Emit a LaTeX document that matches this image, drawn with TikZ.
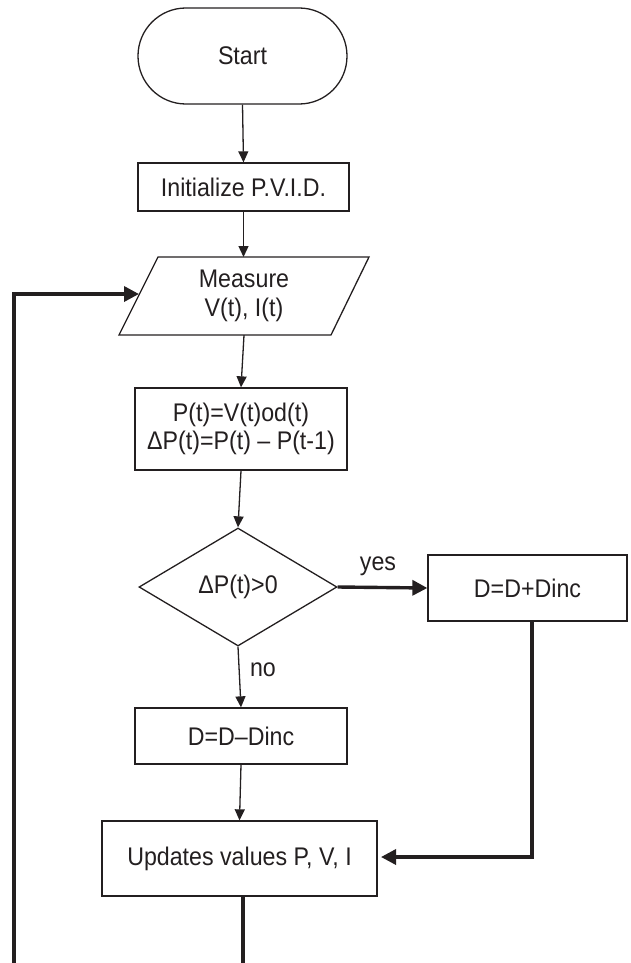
\documentclass[tikz,border=0pt]{standalone}
\usepackage{fontspec}
\setmainfont{Liberation Sans}[FakeStretch=0.91]
\usetikzlibrary{arrows.meta,shapes.geometric,calc}
\definecolor{ink}{RGB}{35,31,32}
\tikzset{
  box/.style={draw=ink, line width=1.3pt, rectangle, inner sep=0pt, align=center, text=ink},
  thin/.style={draw=ink, line width=1.3pt, -{Triangle[length=11pt,width=10pt]}},
  thick/.style={draw=ink, line width=3.4pt, -{Triangle[length=15pt,width=15pt]}},
  thickplain/.style={draw=ink, line width=3.4pt},
  lbl/.style={text=ink, inner sep=0pt}
}
\begin{document}
\begin{tikzpicture}[x=1pt,y=-1pt, font=\fontsize{25.5}{28.5}\selectfont]
\useasboundingbox (0,0) rectangle (630,963);
% nodes
\node[box, rounded corners=47.9pt, minimum width=209pt, minimum height=96pt] (start) at (242.5,56) {Start};
\node[box, minimum width=211pt, minimum height=48pt] (init) at (243.5,187) {Initialize P.V.I.D.};
\node[lbl, align=center, minimum width=211pt, minimum height=78pt] (meas) at (244,296) {Measure\\V(t), I(t)};
\draw[ink, line width=1.3pt] (119,335) -- (158,257) -- (369,257) -- (331,335) -- cycle;
\coordinate (measL) at (139,294);
\node[box, minimum width=212pt, minimum height=82pt] (calc) at (241,429) {P(t)=V(t)od(t)\\ΔP(t)=P(t) – P(t-1)};
\node[box, diamond, aspect=1.68, minimum width=198pt, minimum height=118pt] (dec) at (238,587) {ΔP(t)>0};
\node[box, minimum width=199pt, minimum height=66pt] (inc) at (527.5,588) {D=D+Dinc};
\node[box, minimum width=212pt, minimum height=56pt] (dec2) at (241,736) {D=D–Dinc};
\node[box, minimum width=275pt, minimum height=75pt] (upd) at (239.5,858.5) {Updates values P, V, I};
\node[lbl] (yes) at (378,566) {yes};
\node[lbl] (no) at (263,670) {no};
% helper coordinates
\coordinate (incB) at (532,621);
\coordinate (incC) at (532,857);
\coordinate (updE) at (381,857);
\coordinate (botA) at (243,896);
\coordinate (botB) at (243,963);
\coordinate (botL) at (14,963);
\coordinate (topL) at (14,294);
% connectors
\draw[thin] (start.south) -- (init.north);
\draw[thin] (init.south) -- (init.south |- 0,257);
\draw[thin] (meas.south) -- (calc.north);
\draw[thin] (calc.south) -- (dec.north);
\draw[thick] (dec.east) -- (inc.west);
\draw[thin] (dec.south) -- (dec2.north);
\draw[thin] (dec2.south) -- (upd.north);
\draw[thick] (incB) -- (incC) -- (updE);
\draw[thickplain] (botA) -- (botB);
\draw[thick] (botL) -- (topL) -- (measL);
\end{tikzpicture}
\end{document}
